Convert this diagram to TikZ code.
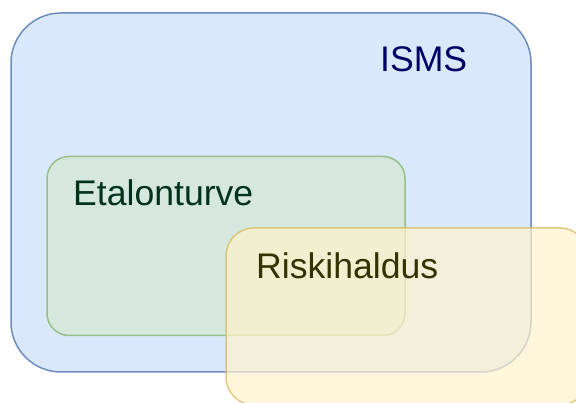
\documentclass[tikz,border=0pt]{standalone}
\usepackage{fontspec}
\setmainfont{Liberation Sans}
\definecolor{ismsfill}{HTML}{DAE8FC}
\definecolor{ismsline}{HTML}{6C8EBF}
\definecolor{ismstext}{HTML}{000066}
\definecolor{etafill}{HTML}{D5E8D4}
\definecolor{etaline}{HTML}{82B366}
\definecolor{etatext}{HTML}{003319}
\definecolor{riskfill}{HTML}{FFF2CC}
\definecolor{riskline}{HTML}{D6B656}
\definecolor{risktext}{HTML}{333300}
\tikzset{
  area/.style={draw, line width=1.5pt, inner sep=0pt},
  label text/.style={anchor=base west, inner sep=0pt, font=\fontsize{35.6}{42}\selectfont}
}
\begin{document}
\begin{tikzpicture}[x=1pt,y=-1pt]
  \useasboundingbox (0,0) rectangle (576,403);
  \clip (0,0) rectangle (576,403);
  % outer management system area
  \node[area, fill=ismsfill, draw=ismsline, rounded corners=50pt,
        minimum width=520pt, minimum height=359pt] (isms) at (271,192.5) {};
  \node[label text, text=ismstext] (ismslbl) at (380,72) {ISMS};
  % baseline protection area
  \node[area, fill=etafill, draw=etaline, fill opacity=0.75, draw opacity=0.75,
        rounded corners=22pt, minimum width=358pt, minimum height=179pt] (eta) at (226,246) {};
  \node[label text, text=etatext] (etalbl) at (73,206) {Etalonturve};
  % risk management area
  \node[area, fill=riskfill, draw=riskline, fill opacity=0.7, draw opacity=0.7,
        rounded corners=28pt, minimum width=362pt, minimum height=177pt] (risk) at (407,316.5) {};
  \node[label text, text=risktext] (risklbl) at (256,279) {Riskihaldus};
\end{tikzpicture}
\end{document}
